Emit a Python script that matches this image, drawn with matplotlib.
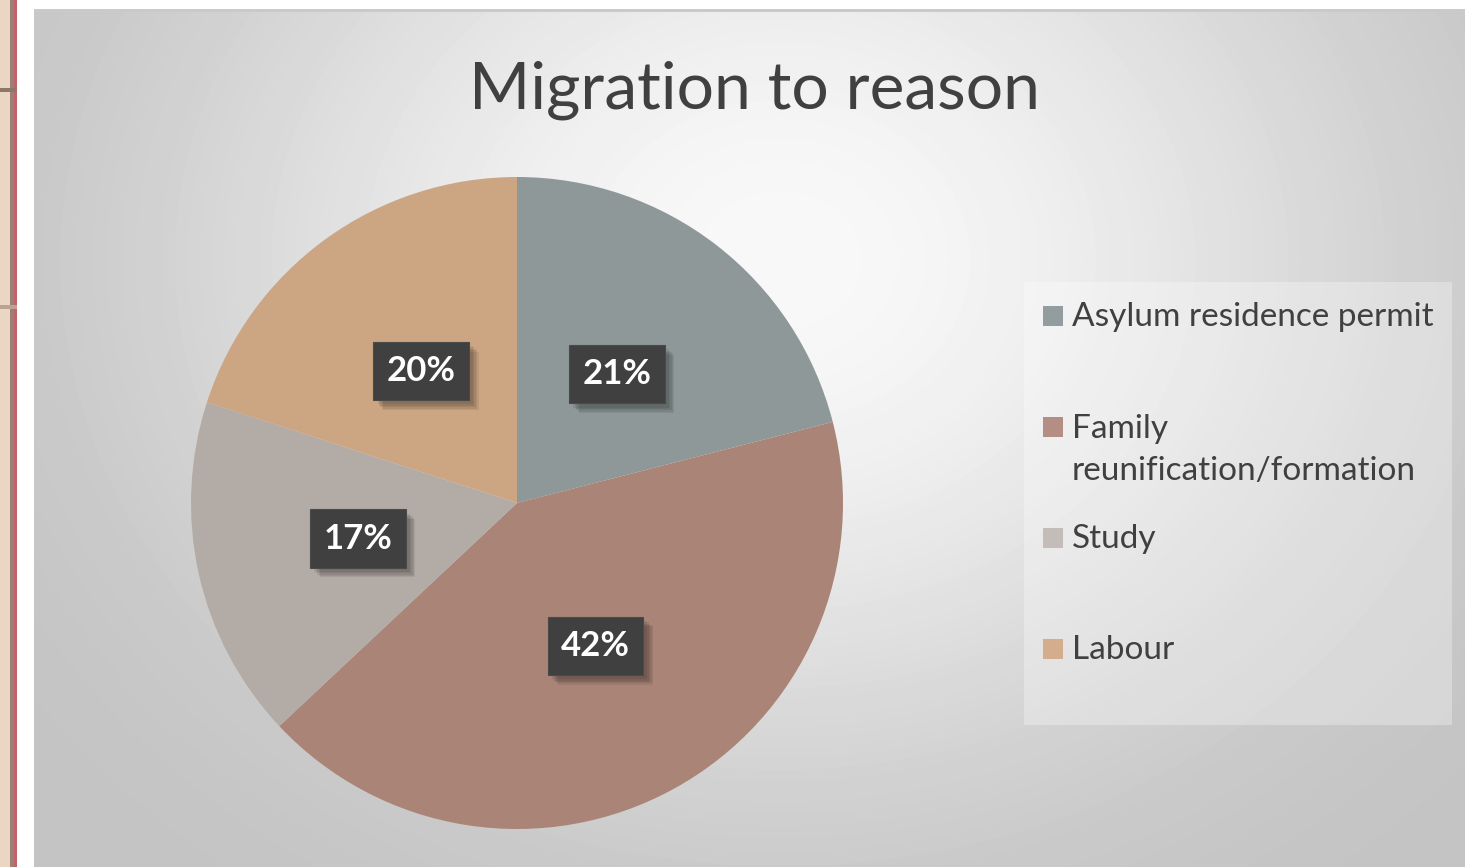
import numpy as np
import matplotlib.pyplot as plt
import matplotlib.patheffects as pe
from matplotlib.patches import Rectangle

# data
reasons = ['Asylum residence permit', 'Family\nreunification/formation', 'Study', 'Labour']
shares = [21, 42, 17, 20]
slice_colors = ['#8e9898', '#a98477', '#b3aba5', '#cca583']
key_colors = ['#939d9f', '#b48e84', '#c4bcb8', '#d4ae8c']

W, H = 1465, 867
FONT = 'Lato'
TXT = '#404040'

fig = plt.figure(figsize=(W / 100, H / 100), dpi=100)
fig.patch.set_facecolor('white')


def box(x0, y0, x1, y1):
    # pixel box (origin top-left) -> figure fraction [l, b, w, h]
    return [x0 / W, 1 - y1 / H, (x1 - x0) / W, (y1 - y0) / H]


def rect(x0, y0, x1, y1, **kw):
    l, b, w, h = box(x0, y0, x1, y1)
    fig.add_artist(Rectangle((l, b), w, h, transform=fig.transFigure, lw=0, **kw))


# slide strip on the left
rect(0, 0, 11, H, color='#ebd6c3')
rect(10, 0, 14, H, color='#9c8074')
rect(14, 0, 17, H, color='#c2636c')
rect(0, 88, 17, 92, color='#8f766b')
rect(0, 305, 17, 309, color='#b9a394')

# chart area background, soft radial gradient
bg = fig.add_axes(box(34, 12, W, H))
yy, xx = np.mgrid[12:H, 34:W]
d = np.clip(np.hypot((xx - 780) / 950, (yy - 260) / 800), 0, 1)
shade = 196 + 52 * 0.5 * (1 + np.cos(np.pi * d))
bg.imshow(shade, cmap='gray', vmin=0, vmax=255, aspect='auto', interpolation='bilinear')
bg.axis('off')
rect(34, 9, W, 12, color='#cacaca')

# pie
ax = fig.add_axes(box(191, 177, 843, 829))
wedges, texts, autotexts = ax.pie(
    shares, colors=slice_colors, startangle=90, counterclock=False,
    autopct='%1.0f%%', pctdistance=0.5, wedgeprops=dict(linewidth=0),
    textprops=dict(color='white', fontsize=25, fontweight='bold', family=FONT))
ax.set_xlim(-1, 1)
ax.set_ylim(-1, 1)
ax.axis('off')

# soft drop shadow under the label boxes
soft = [pe.SimplePatchShadow(offset=(k, -k), shadow_rgbFace='black', alpha=0.07)
        for k in (7, 6, 5, 4, 3)]
for t in autotexts:
    t.set_bbox(dict(boxstyle='square,pad=0.38', fc='#404040', ec='#4a4a4a', lw=0.8))
    t.get_bbox_patch().set_path_effects(soft + [pe.Normal()])

# title
fig.text(754.5 / W, 1 - 108 / H, 'Migration to reason', ha='center', va='baseline',
         fontsize=47.5, color=TXT, family=FONT)

# legend panel
rect(1024, 282, 1452, 725, color='white', alpha=0.3)
for i, (lab, col) in enumerate(zip(reasons, key_colors)):
    cy = 316 + 111 * i
    rect(1043, cy - 10, 1063, cy + 10, color=col)
    # baseline of a multi-line label sits on its last line
    base = cy + 10 + 43 * lab.count('\n')
    fig.text(1072 / W, 1 - base / H, lab, ha='left', va='baseline',
             fontsize=24, color=TXT, family=FONT, linespacing=1.52)

fig.savefig('out.png', dpi=100)
